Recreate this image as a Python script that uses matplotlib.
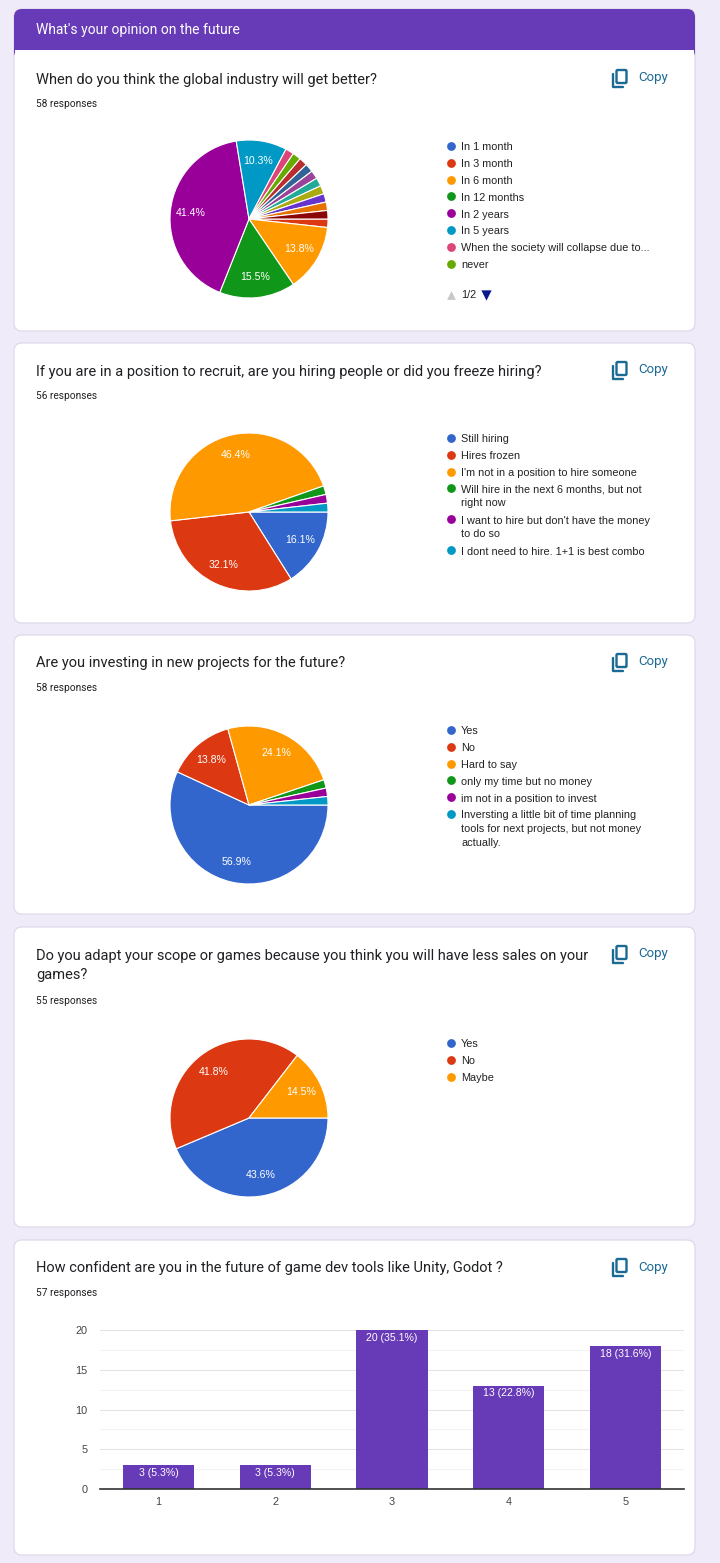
import matplotlib
matplotlib.use("Agg")
import matplotlib.pyplot as plt
from matplotlib.patches import FancyBboxPatch, Rectangle
import numpy as np

# google charts palette
PALETTE = ['#3366cc', '#dc3912', '#ff9900', '#109618', '#990099', '#0099c6',
           '#dd4477', '#66aa00', '#b82e2e', '#316395', '#994499', '#22aa99',
           '#aaaa11', '#6633cc', '#e67300', '#8b0707']
PURPLE = '#673ab7'
COPY_BLUE = '#1b6a94'

section_title = "What's your opinion on the future"

# --- Q1
q1_title = "When do you think the global industry will get better?"
q1_labels = ['In 1 month', 'In 3 month', 'In 6 month', 'In 12 months', 'In 2 years',
             'In 5 years', 'When the society will collapse due to...', 'never',
             'other 9', 'other 10', 'other 11', 'other 12', 'other 13', 'other 14',
             'other 15', 'other 16']
q1_values = [0, 1, 8, 9, 24, 6, 1, 1, 1, 1, 1, 1, 1, 1, 1, 1]
q1_legend_shown = 8
q1_page = "1/2"

# --- Q2
q2_title = "If you are in a position to recruit, are you hiring people or did you freeze hiring?"
q2_labels = ['Still hiring', 'Hires frozen', "I'm not in a position to hire someone",
             'Will hire in the next 6 months, but not\nright now',
             "I want to hire but don't have the money\nto do so",
             'I dont need to hire. 1+1 is best combo']
q2_values = [9, 18, 26, 1, 1, 1]

# --- Q3
q3_title = "Are you investing in new projects for the future?"
q3_labels = ['Yes', 'No', 'Hard to say', 'only my time but no money',
             'im not in a position to invest',
             'Inversting a little bit of time planning\ntools for next projects, but not money\nactually.']
q3_values = [33, 8, 14, 1, 1, 1]

# --- Q4
q4_title = "Do you adapt your scope or games because you think you will have less sales on your\ngames?"
q4_labels = ['Yes', 'No', 'Maybe']
q4_values = [24, 23, 8]

# --- Q5
q5_title = "How confident are you in the future of game dev tools like Unity, Godot ?"
q5_categories = ['1', '2', '3', '4', '5']
q5_values = [3, 3, 20, 13, 18]

W, H = 720, 1563
fig = plt.figure(figsize=(W / 100, H / 100), dpi=100)
fig.patch.set_facecolor('#f0ebf8')

bg = fig.add_axes([0, 0, 1, 1])
bg.set_xlim(0, W)
bg.set_ylim(H, 0)
bg.axis('off')

TITLE_FONT = ['Roboto', 'DejaVu Sans']
CHART_FONT = ['Liberation Sans', 'DejaVu Sans']
LEG_FS = 7.8


def px_axes(x0, y0, x1, y1):
    return fig.add_axes([x0 / W, 1 - y1 / H, (x1 - x0) / W, (y1 - y0) / H])


def card(y0, y1):
    bg.add_patch(FancyBboxPatch((14, y0), 681, y1 - y0,
                                boxstyle="round,pad=0,rounding_size=8",
                                fc='white', ec='#dcd6e8', lw=0.8, zorder=1))


def copy_button(y):
    # little copy icon + text
    bg.add_patch(FancyBboxPatch((616.5, y - 8), 10, 13,
                                boxstyle="round,pad=0,rounding_size=1.2",
                                fc='none', ec=COPY_BLUE, lw=1.7, zorder=3))
    bg.plot([613, 613, 623], [y - 4, y + 9, y + 9], color=COPY_BLUE, lw=1.7,
            solid_capstyle='round', zorder=3)
    bg.text(638, y, 'Copy', color=COPY_BLUE, fontsize=9.5, family=TITLE_FONT,
            va='center', ha='left', zorder=3)


def header(title, y_title, n, y_resp):
    bg.text(36, y_title, title, fontsize=10.5, family=TITLE_FONT, color='#202124',
            va='center', ha='left', linespacing=1.45, zorder=3)
    bg.text(36, y_resp, f'{n} responses', fontsize=7.3, family=TITLE_FONT,
            color='#202124', va='center', ha='left', zorder=3)


def pie_chart(cy, values, labels, n_legend=None, legend_y=None):
    r = 79
    cx = 249
    ax = px_axes(cx - r - 2, cy - r - 2, cx + r + 2, cy + r + 2)
    colors = PALETTE[:len(values)]

    def fmt(p):
        return f'{p:.1f}%' if p >= 5 else ''

    ax.pie(values, colors=colors, startangle=0, counterclock=False, autopct=fmt,
           pctdistance=0.74,
           wedgeprops=dict(edgecolor='white', linewidth=0.8),
           textprops=dict(color='white', fontsize=7.6, family=CHART_FONT))
    lim = (r + 2) / r
    ax.set_xlim(-lim, lim)
    ax.set_ylim(-lim, lim)
    ax.set_aspect('equal')

    # legend drawn by hand, google style; y is the centre of the first line
    if n_legend is None:
        n_legend = len(labels)
    y = legend_y
    for lab, col in zip(labels[:n_legend], colors[:n_legend]):
        bg.scatter([451], [y], s=40, color=col, zorder=3, linewidths=0)
        bg.text(461, y - 3.6, lab, fontsize=LEG_FS, family=CHART_FONT, color='#222222',
                va='top', ha='left', linespacing=1.45, zorder=3)
        nlines = lab.count('\n') + 1
        y += 16.8 + (nlines - 1) * 14.2
    return ax


# ---------- card 1 with section header
card(9, 331)
bg.add_patch(FancyBboxPatch((14, 9), 681, 50, boxstyle="round,pad=0,rounding_size=8",
                            fc=PURPLE, ec='none', zorder=2))
bg.add_patch(Rectangle((14.6, 50), 679.8, 30, fc='white', ec='none', zorder=2.5))
bg.text(36, 30, section_title, color='white', fontsize=10, family=TITLE_FONT,
        va='center', ha='left', zorder=3)
header(q1_title, 80, sum(q1_values), 104)
copy_button(78)

pie_chart(219, q1_values, q1_labels, n_legend=q1_legend_shown, legend_y=146)
bg.scatter([451], [295], marker='^', s=40, color='#c8c8c8', linewidths=0, zorder=3)
bg.text(461, 295, q1_page, fontsize=LEG_FS, family=CHART_FONT, color='#222222',
        va='center', ha='left', zorder=3)
bg.scatter([486], [295], marker='v', s=55, color='#0a1a8c', linewidths=0, zorder=3)

# ---------- card 2
card(343, 623)
header(q2_title, 372, sum(q2_values), 396)
copy_button(370)
pie_chart(512, q2_values, q2_labels, legend_y=438)

# ---------- card 3
card(635, 914)
header(q3_title, 663, sum(q3_values), 688)
copy_button(662)
pie_chart(805, q3_values, q3_labels, legend_y=730)

# ---------- card 4
card(927, 1227)
header(q4_title, 965.5, sum(q4_values), 1001)
copy_button(954)
pie_chart(1118, q4_values, q4_labels, legend_y=1043)

# ---------- card 5: bar chart
card(1240, 1555)
header(q5_title, 1268, sum(q5_values), 1293)
copy_button(1267)

bx = px_axes(100, 1330, 684, 1489)
total5 = sum(q5_values)
xpos = np.arange(len(q5_categories))
bars = bx.bar(xpos, q5_values, width=0.61, color=PURPLE, zorder=3)
for b, v in zip(bars, q5_values):
    bx.text(b.get_x() + b.get_width() / 2, v - 0.35, f'{v} ({v / total5 * 100:.1f}%)',
            ha='center', va='top', color='white', fontsize=7.6, family=CHART_FONT,
            zorder=4)
bx.set_xlim(-0.5, len(q5_categories) - 0.5)
bx.set_ylim(0, 20)
bx.set_yticks([0, 5, 10, 15, 20])
bx.set_yticks([2.5, 7.5, 12.5, 17.5], minor=True)
bx.set_xticks(xpos)
bx.set_xticklabels(q5_categories)
bx.grid(axis='y', which='major', color='#e3e3e3', lw=0.8, zorder=0)
bx.grid(axis='y', which='minor', color='#f3f3f3', lw=0.8, zorder=0)
bx.tick_params(axis='both', which='both', length=0, labelsize=7.8, colors='#444444',
               pad=6)
for lab in bx.get_xticklabels() + bx.get_yticklabels():
    lab.set_family(CHART_FONT)
for s in ['top', 'right', 'left']:
    bx.spines[s].set_visible(False)
bx.spines['bottom'].set_color('#333333')
bx.spines['bottom'].set_linewidth(1.2)
bx.spines['bottom'].set_zorder(5)
bx.set_facecolor('none')
bx.tick_params(axis='y', pad=9)

fig.savefig('out.png', dpi=100, facecolor=fig.get_facecolor())
